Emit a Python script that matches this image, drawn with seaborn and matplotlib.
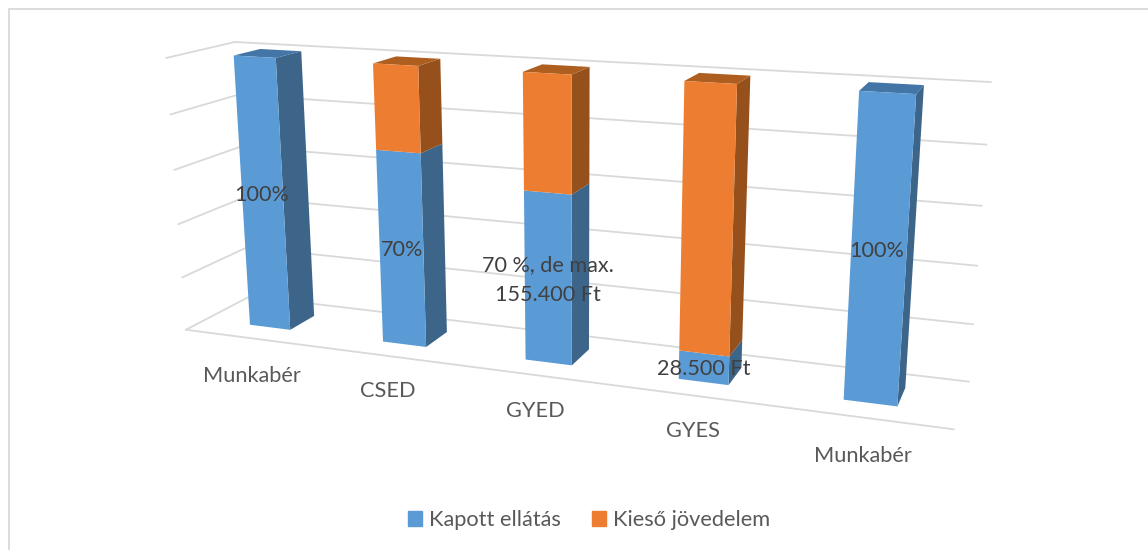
import numpy as np
import pandas as pd
import seaborn as sns
import matplotlib.pyplot as plt
from matplotlib.patches import Patch, Polygon
from matplotlib.transforms import Transform

# --- DATA ---
POSITIONS = [0, 1, 2, 3, 4]
CATEGORIES = ['Munkabér', 'CSED', 'GYED', 'GYES', 'Munkabér']
KAPOTT = [100, 70, 60, 10, 100]
KIESO = [0, 30, 40, 90, 0]
BAR_LABELS = ['100%', '70%', '70 %, de max.\n155.400 Ft', '28.500 Ft', '100%']
GRID_VALUES = [0, 20, 40, 60, 80, 100]
SERIES_NAMES = ['Kapott ellátás', 'Kieső jövedelem']

# --- LAYOUT ---
W, H = 1148, 550
BAR_WIDTH = 0.31
Z_FRONT, Z_BACK = 0.30, 0.70
CATEGORY_XY = [(252, 376), (388, 391), (535, 411), (693, 431), (863, 456)]
LABEL_XY = [(262, 195), (402, 250), (548, 280), (704, 369), (877, 251)]
GRID_COLOR = '#D9D9D9'
FRONT = {'blue': '#5B9BD5', 'orange': '#ED7D31'}
SIDE = {'blue': '#3C6589', 'orange': '#95501C'}
TOP = {'blue': '#4376A6', 'orange': '#AE5F20'}

# chart box corners (x, y, z in 0..1) and where they land in the picture
BOX_3D = np.array([[0, 0, 0], [1, 0, 0], [0, 0, 1], [1, 0, 1], [0, 1, 0], [0, 1, 1], [1, 1, 1]], float)
BOX_PX = np.array([[186, 330], [954, 429], [250, 296], [969, 382], [166, 58], [235, 42], [991, 82]], float)


def solve_camera(pts, px):
    # direct linear transform, last matrix entry fixed at 1
    rows, rhs = [], []
    for (x, y, z), (u, v) in zip(pts, px):
        rows.append([x, y, z, 1, 0, 0, 0, 0, -u * x, -u * y, -u * z])
        rows.append([0, 0, 0, 0, x, y, z, 1, -v * x, -v * y, -v * z])
        rhs += [u, v]
    sol = np.linalg.lstsq(np.array(rows), np.array(rhs), rcond=None)[0]
    return np.append(sol, 1).reshape(3, 4)


CAMERA = solve_camera(BOX_3D, BOX_PX)


def project(x, y, z):
    # x in bar positions, y in percent, z is depth 0..1
    x, y = np.asarray(x, float), np.asarray(y, float)
    pts = np.column_stack([(x + 0.5) / 5, y / 100, np.full(x.shape, z), np.ones(x.shape)])
    uvw = pts @ CAMERA.T
    return uvw[:, :2] / uvw[:, 2:]


class FrontPlane(Transform):
    input_dims = 2
    output_dims = 2

    def __init__(self, z):
        super().__init__()
        self.z = z

    def transform_non_affine(self, values):
        values = np.asarray(values)
        return project(values[:, 0], values[:, 1], self.z)


plt.rcParams['figure.dpi'] = 100
sns.set_theme(style='white')
plt.rcParams['font.family'] = ['Lato', 'DejaVu Sans']

df = pd.DataFrame({'pos': POSITIONS, 'kapott': KAPOTT, 'kieso': KIESO})

fig = plt.figure(figsize=(W / 100, H / 100), facecolor='white')
ax = fig.add_axes([0, 0, 1, 1])

sns.barplot(data=df, x='pos', y='kapott', color=FRONT['blue'], saturation=1, width=BAR_WIDTH, ax=ax, zorder=3)
n_blue = len(ax.patches)
sns.barplot(data=df, x='pos', y='kieso', bottom=df['kapott'], color=FRONT['orange'], saturation=1,
            width=BAR_WIDTH, ax=ax, zorder=3)

ax.set_xlim(0, W)
ax.set_ylim(H, 0)
ax.axis('off')

plane = FrontPlane(Z_FRONT) + ax.transData
for i, bar in enumerate(list(ax.patches)):
    tone = 'blue' if i < n_blue else 'orange'
    bar.set_transform(plane)
    bar.set_edgecolor('none')
    bar.set_clip_on(False)
    x0, y0, w, h = bar.get_x(), bar.get_y(), bar.get_width(), bar.get_height()
    if h == 0:
        continue
    x1, y1 = x0 + w, y0 + h
    side = np.vstack([project([x1, x1], [y0, y1], Z_FRONT), project([x1, x1], [y1, y0], Z_BACK)])
    ax.add_patch(Polygon(side, closed=True, fc=SIDE[tone], ec='none', zorder=2))
    # only the uppermost segment of a stack shows its lid
    if y1 >= 100:
        top = np.vstack([project([x0, x1], [y1, y1], Z_FRONT), project([x1, x0], [y1, y1], Z_BACK)])
        ax.add_patch(Polygon(top, closed=True, fc=TOP[tone], ec='none', zorder=2.5))

# gridlines on side wall and back wall, plus front floor edge
for val in GRID_VALUES:
    corner = project([-0.5, -0.5], [val, val], 0)[0]
    back = project([-0.5, 4.5], [val, val], 1)
    pts = np.vstack([corner, back])
    ax.plot(pts[:, 0], pts[:, 1], color=GRID_COLOR, lw=1.3, zorder=1, solid_joinstyle='miter')
edge = project([-0.5, 4.5], [0, 0], 0)
ax.plot(edge[:, 0], edge[:, 1], color=GRID_COLOR, lw=1.3, zorder=1)

for name, (px, py) in zip(CATEGORIES, CATEGORY_XY):
    ax.text(px, py, name, ha='center', va='center', fontsize=15.7, color='#595959', zorder=5)
for text, (px, py) in zip(BAR_LABELS, LABEL_XY):
    ax.text(px, py, text, ha='center', va='center', fontsize=15.6, color='#404040', zorder=5, linespacing=1.6)

handles = [Patch(color=FRONT['blue'], label=SERIES_NAMES[0]), Patch(color=FRONT['orange'], label=SERIES_NAMES[1])]
ax.legend(handles=handles, loc='center', bbox_to_anchor=(589, 520), bbox_transform=ax.transData, ncol=2,
          frameon=False, fontsize=15.7, handlelength=0.65, handleheight=0.65, handletextpad=0.3,
          columnspacing=1.45, labelcolor='#595959')

# outer chart frame, open on the right and at the bottom
ax.plot([8.5, 8.5, W], [H, 8.5, 8.5], color=GRID_COLOR, lw=1.3, zorder=0)

fig.savefig('out.png', dpi=100)
